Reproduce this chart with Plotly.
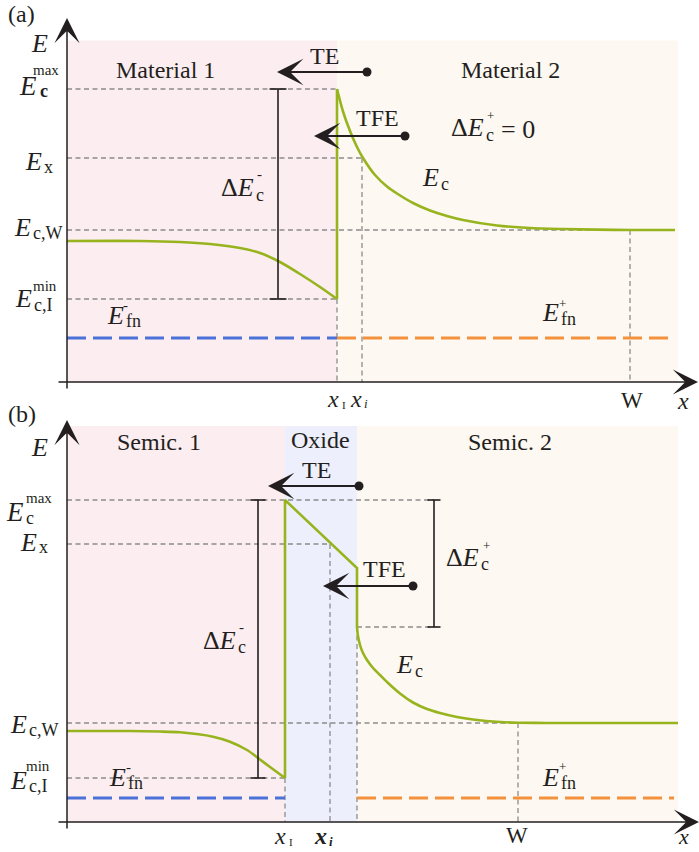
import plotly.graph_objects as go

# ---------------------------------------------------------------- style
SERIF = "Liberation Serif"
INK = "#231f20"
GREEN = "#97b41e"
BLUE = "#4a72d8"
ORANGE = "#f4913d"
GRID = "#8c8c8c"
PINK = "#fcedf0"
CREAM = "#fdf8f1"
LAVENDER = "#eeeffc"
FIG_W, FIG_H = 699, 852

# ---------------------------------------------------------------- panel (a): Material 1 | Material 2
a_x_I, a_x_i, a_W, a_x_end = 27.0, 29.5, 56.3, 61.1
a_E_max, a_E_x, a_E_cW, a_E_cImin, a_E_fn = 29.3, 22.4, 15.2, 8.3, 4.4
a_region_top = 34.15
a_bracket_x = 21.1

# conduction band edge, left of the interface
a_left_x = [0.0, 7.3, 11.3, 14.3, 17.3, 19.3, 21.3, 23.3, 25.3, 27.0]
a_left_E = [14.1, 14.1, 14.0, 13.8, 13.4, 12.9, 12.0, 10.8, 9.5, 8.3]
# conduction band edge, right of the interface
a_right_x = [27.0, 27.6, 28.3, 29.0, 29.6, 30.8, 32.0, 33.0, 34.6, 36.3,
             38.0, 39.6, 43.0, 46.3, 49.6, 53.0, 56.3, 60.8]
a_right_E = [29.3, 27.05, 25.1, 23.5, 22.4, 20.7, 19.55, 18.85, 17.9, 17.15,
             16.6, 16.2, 15.65, 15.4, 15.3, 15.24, 15.2, 15.2]

# TE / TFE emission arrows: start (dot), end (head), energy
a_arrow_from = [30.0, 33.8]
a_arrow_to = [21.0, 24.7]
a_arrow_E = [31.0, 24.6]

# ---------------------------------------------------------------- panel (b): Semic. 1 | Oxide | Semic. 2
b_x_I, b_x_i, b_x_ox, b_W, b_x_end = 21.8, 26.3, 29.0, 45.1, 61.1
b_E_max, b_E_x, b_E_ox, b_E_low = 32.2, 27.8, 25.4, 19.5
b_E_cW, b_E_cImin, b_E_fn = 9.9, 4.4, 2.4
b_region_top = 39.6
b_bracket_minus_x, b_bracket_plus_x = 19.1, 36.7

b_left_x = [0.0, 6.3, 9.3, 11.3, 14.6, 16.3, 18.0, 19.1, 20.3, 21.8]
b_left_E = [9.1, 9.1, 9.05, 8.97, 8.53, 8.03, 7.2, 6.4, 5.5, 4.4]
b_right_x = [29.0, 29.1, 29.3, 29.6, 30.0, 30.6, 31.3, 32.0, 33.3, 34.6,
             36.0, 37.3, 39.0, 40.6, 43.3, 45.1, 48.0, 61.1]
b_right_E = [19.5, 18.6, 17.7, 16.9, 16.2, 15.4, 14.7, 14.0, 12.85, 11.95,
             11.3, 10.9, 10.5, 10.25, 10.0, 9.93, 9.9, 9.9]

b_arrow_from = [29.2, 34.6]
b_arrow_to = [20.1, 25.6]
b_arrow_E = [33.6, 23.6]

fig = go.Figure()
shapes, annotations = [], []


def axes_of(panel):
    return ("x", "y") if panel == "a" else ("x2", "y2")


def line(panel, xs, ys, color=GRID, width=1.3, dash="5px,3.5px", shape="linear"):
    xr, yr = axes_of(panel)
    fig.add_trace(go.Scatter(x=xs, y=ys, mode="lines", xaxis=xr, yaxis=yr,
                             line=dict(color=color, width=width, dash=dash, shape=shape,
                                       smoothing=0.7),
                             hoverinfo="skip", showlegend=False))


def region(panel, x0, x1, top, color):
    xr, yr = axes_of(panel)
    shapes.append(dict(type="rect", xref=xr, yref=yr, x0=x0, x1=x1, y0=0, y1=top,
                       fillcolor=color, line=dict(width=0), layer="below"))


def arrow(panel, x0, y0, x1, y1, width=2.0, size=2.2):
    xr, yr = axes_of(panel)
    annotations.append(dict(xref=xr, yref=yr, axref=xr, ayref=yr, x=x1, y=y1, ax=x0, ay=y0,
                            text="", showarrow=True, arrowhead=3, arrowsize=size,
                            arrowwidth=width, arrowcolor=INK, standoff=0, startstandoff=0))


def bracket(panel, x, top, bottom, half):
    line(panel, [x, x, None, x - half, x + half, None, x - half, x + half],
         [top, bottom, None, top, top, None, bottom, bottom], color=INK, width=1.6, dash="solid")


def lab(px, py, text, size=26, anchor="center"):
    annotations.append(dict(xref="paper", yref="paper", x=px / FIG_W, y=1 - py / FIG_H,
                            text=text, showarrow=False, xanchor=anchor, yanchor="middle",
                            borderpad=0, font=dict(family=SERIF, size=size, color=INK)))


E = "<i>E</i>"
WORD = 24     # plain words
SYM = 26      # italic symbols
SUB = 18      # subscripts
SUP = 15      # superscripts

# ================================================================ panel (a)
region("a", 0, a_x_I, a_region_top, PINK)
region("a", a_x_I, a_x_end, a_region_top, CREAM)

line("a", [0, a_x_I], [a_E_max, a_E_max])
line("a", [0, a_x_i], [a_E_x, a_E_x])
line("a", [0, a_W], [a_E_cW, a_E_cW])
line("a", [0, a_x_I], [a_E_cImin, a_E_cImin])
line("a", [a_x_I, a_x_I], [a_E_cImin, 0])
line("a", [a_x_i, a_x_i], [a_E_x, 0])
line("a", [a_W, a_W], [a_E_cW, 0])

line("a", [0, a_x_I], [a_E_fn, a_E_fn], color=BLUE, width=3, dash="19px,7px")
line("a", [a_x_I, a_x_end - 0.4], [a_E_fn, a_E_fn], color=ORANGE, width=3, dash="19px,7px")

line("a", a_left_x, a_left_E, color=GREEN, width=2.6, dash="solid", shape="spline")
line("a", [a_x_I, a_x_I], [a_E_cImin, a_E_max], color=GREEN, width=2.6, dash="solid")
line("a", a_right_x, a_right_E, color=GREEN, width=2.6, dash="solid", shape="spline")

bracket("a", a_bracket_x, a_E_max, a_E_cImin, 0.85)

for x0, x1, e in zip(a_arrow_from, a_arrow_to, a_arrow_E):
    arrow("a", x0, e, x1, e)
fig.add_trace(go.Scatter(x=a_arrow_from, y=a_arrow_E, mode="markers", xaxis="x", yaxis="y",
                         marker=dict(color=INK, size=9), hoverinfo="skip", showlegend=False))

# coordinate axes
arrow("a", -1.0, 0, 63.1, 0, width=1.5, size=2.8)
arrow("a", 0, -0.8, 0, 36.4, width=1.5, size=2.8)

# ================================================================ panel (b)
region("b", 0, b_x_I, b_region_top, PINK)
region("b", b_x_I, b_x_ox, b_region_top, LAVENDER)
region("b", b_x_ox, b_x_end, b_region_top, CREAM)

line("b", [0, b_bracket_plus_x], [b_E_max, b_E_max])
line("b", [0, b_x_i], [b_E_x, b_E_x])
line("b", [b_x_ox, b_bracket_plus_x], [b_E_low, b_E_low])
line("b", [0, b_W], [b_E_cW, b_E_cW])
line("b", [0, b_x_I], [b_E_cImin, b_E_cImin])
line("b", [b_x_I, b_x_I], [b_E_cImin, 0])
line("b", [b_x_i, b_x_i], [b_E_x, 0])
line("b", [b_x_ox, b_x_ox], [b_E_low, 0])
line("b", [b_W, b_W], [b_E_cW, 0])

line("b", [0, b_x_I], [b_E_fn, b_E_fn], color=BLUE, width=3, dash="19px,7px")
line("b", [b_x_ox, b_x_end - 0.4], [b_E_fn, b_E_fn], color=ORANGE, width=3, dash="19px,7px")

line("b", b_left_x, b_left_E, color=GREEN, width=2.6, dash="solid", shape="spline")
line("b", [b_x_I, b_x_I, b_x_ox, b_x_ox], [b_E_cImin, b_E_max, b_E_ox, b_E_low],
     color=GREEN, width=2.6, dash="solid")
line("b", b_right_x, b_right_E, color=GREEN, width=2.6, dash="solid", shape="spline")

bracket("b", b_bracket_minus_x, b_E_max, b_E_cImin, 0.75)
bracket("b", b_bracket_plus_x, b_E_max, b_E_low, 0.65)

for x0, x1, e in zip(b_arrow_from, b_arrow_to, b_arrow_E):
    arrow("b", x0, e, x1, e)
fig.add_trace(go.Scatter(x=b_arrow_from, y=b_arrow_E, mode="markers", xaxis="x2", yaxis="y2",
                         marker=dict(color=INK, size=9), hoverinfo="skip", showlegend=False))

arrow("b", -1.0, 0, 63.2, 0, width=1.5, size=2.8)
arrow("b", 0, -0.8, 0, 40.2, width=1.5, size=2.8)

# ================================================================ text, panel (a)
lab(21, 14, "(a)", WORD)
lab(39, 43, E, SYM)
lab(165, 70, "Material 1", WORD)
lab(510, 70, "Material 2", WORD)
lab(324, 56, "TE", WORD)
lab(377, 118, "TFE", WORD)
lab(485, 128, "Δ" + E, SYM, "right"); lab(485, 135, "c", SUB, "left")
lab(486, 116, "+", SUP - 2, "left"); lab(500, 129, "= 0", SYM, "left")
lab(440, 177, E, SYM, "right"); lab(440, 184, "c", SUB, "left")
lab(255, 188, "Δ" + E, SYM, "right"); lab(255, 195, "c", SUB, "left"); lab(256, 174, "-", SUP, "left")
lab(125, 315, E, SYM, "right"); lab(125, 321, "fn", SUB, "left"); lab(122, 305, "-", SUP, "left")
lab(560, 313, E, SYM, "right"); lab(560, 319, "fn", SUB, "left"); lab(558, 303, "+", SUP - 2, "left")
# energy levels
lab(38, 86, E, SYM + 1, "right"); lab(39, 91, "<b>c</b>", SUB, "left"); lab(32, 70, "max", SUP, "left")
lab(43, 162, E, SYM, "right"); lab(43, 167, "x", SUB, "left")
lab(32, 228, E, SYM, "right"); lab(32, 233, "c,W", SUB, "left")
lab(33, 298, E, SYM, "right"); lab(33, 305, "c,I", SUB, "left"); lab(32, 286, "min", SUP, "left")
# positions
lab(340, 399, "<i>x</i>", SYM - 2, "right"); lab(341, 405, "I", 11, "left")
lab(363, 399, "<i>x</i>", SYM - 2, "right"); lab(363, 404, "<i>i</i>", 13, "left")
lab(632, 400, "W", WORD - 1)
lab(683, 401, "<i>x</i>", SYM - 2)

# ================================================================ text, panel (b)
lab(22, 414, "(b)", WORD)
lab(39, 447, E, SYM)
lab(159, 442, "Semic. 1", WORD)
lab(510, 442, "Semic. 2", WORD)
lab(320, 440, "Oxide", WORD)
lab(316, 470, "TE", WORD)
lab(385, 569, "TFE", WORD)
lab(480, 557, "Δ" + E, SYM, "right"); lab(480, 564, "c", SUB, "left"); lab(482, 545, "+", SUP - 2, "left")
lab(237, 640, "Δ" + E, SYM, "right"); lab(237, 647, "c", SUB, "left"); lab(238, 627, "-", SUP, "left")
lab(414, 664, E, SYM, "right"); lab(414, 671, "c", SUB, "left")
lab(127, 777, E, SYM, "right"); lab(127, 783, "fn", SUB, "left"); lab(125, 767, "-", SUP, "left")
lab(560, 777, E, SYM, "right"); lab(560, 783, "fn", SUB, "left"); lab(558, 766, "+", SUP - 2, "left")
lab(25, 512, E, SYM + 1, "right"); lab(25, 518, "c", SUB, "left"); lab(25, 498, "max", SUP, "left")
lab(38, 542, E, SYM, "right"); lab(38, 547, "x", SUB, "left")
lab(28, 724, E, SYM, "right"); lab(28, 730, "c,W", SUB, "left")
lab(28, 780, E, SYM, "right"); lab(28, 786, "c,I", SUB, "left"); lab(25, 766, "min", SUP, "left")
lab(287, 836, "<i>x</i>", SYM - 2, "right"); lab(288, 842, "I", 11, "left")
lab(328, 836, "<b><i>x</i></b>", SYM - 2, "right"); lab(328, 841, "<b><i>i</i></b>", 13, "left")
lab(517, 835, "W", WORD - 1)
lab(683, 836, "<i>x</i>", SYM - 4)

split = 1 - 412 / FIG_H
hidden = dict(visible=False, showgrid=False, zeroline=False, fixedrange=True)
fig.update_layout(
    width=FIG_W, height=FIG_H,
    margin=dict(l=0, r=0, t=0, b=0),
    paper_bgcolor="white", plot_bgcolor="rgba(0,0,0,0)",
    showlegend=False,
    xaxis=dict(domain=[0, 1], range=[-6.7, 63.2], anchor="y", **hidden),
    yaxis=dict(domain=[split, 1], range=[-3.0, 38.2], anchor="x", **hidden),
    xaxis2=dict(domain=[0, 1], range=[-6.7, 63.2], anchor="y2", **hidden),
    yaxis2=dict(domain=[0, split], range=[-3.0, 41.0], anchor="x2", **hidden),
    shapes=shapes,
    annotations=annotations,
)

fig.write_html("out.html")
